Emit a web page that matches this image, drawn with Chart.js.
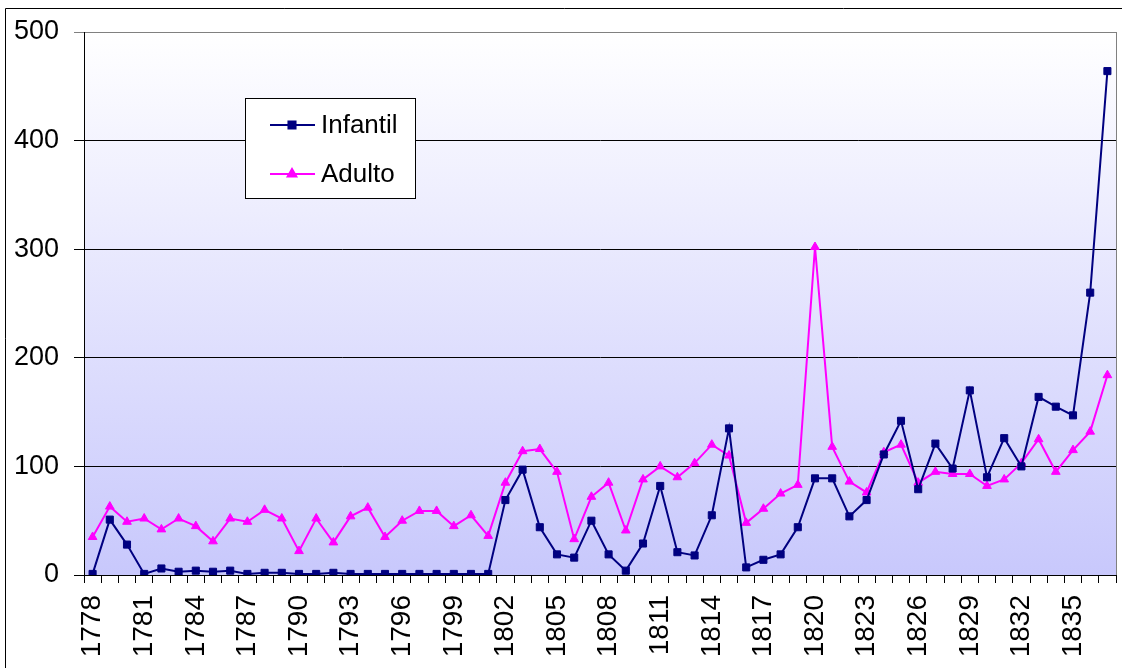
<!DOCTYPE html>
<html>
<head>
<meta charset="utf-8">
<script src="https://cdn.jsdelivr.net/npm/chart.js@4.4.1/dist/chart.umd.min.js"></script>
<style>
  html, body { margin: 0; padding: 0; background: #fff; }
  #wrap { width: 1122px; height: 668px; position: relative; }
</style>
</head>
<body>
<div id="wrap"><canvas id="chart" width="1122" height="668"></canvas></div>
<script>
// Years 1778..1837, one category per year
const years = [];
for (let y = 1778; y <= 1837; y++) years.push(String(y));

const infantil = [
  1, 51, 28, 1, 6, 3, 4, 3, 4, 1,
  2, 2, 1, 1, 2, 1, 1, 1, 1, 1,
  1, 1, 1, 1, 69, 97, 44, 19, 16, 50,
  19, 4, 29, 82, 21, 18, 55, 135, 7, 14,
  19, 44, 89, 89, 54, 69, 111, 142, 79, 121,
  98, 170, 90, 126, 100, 164, 155, 147, 260, 464
];

const adulto = [
  35, 63, 49, 52, 42, 52, 45, 31, 52, 49,
  60, 52, 22, 52, 30, 54, 62, 35, 50, 59,
  59, 45, 55, 36, 85, 114, 116, 95, 33, 72,
  85, 41, 88, 100, 90, 103, 120, 110, 48, 61,
  75, 83, 302, 118, 86, 76, 113, 120, 85, 95,
  93, 93, 82, 88, 103, 125, 95, 115, 132, 184
];

const yTicks = [0, 100, 200, 300, 400, 500];

// Lavender gradient behind the plot area, plus the outer frame
const backdrop = {
  id: 'backdrop',
  beforeDraw(chart) {
    const { ctx, chartArea: a } = chart;
    ctx.save();
    const g = ctx.createLinearGradient(0, a.top, 0, a.bottom);
    g.addColorStop(0, '#ffffff');
    g.addColorStop(1, '#c8c8fc');
    ctx.fillStyle = g;
    ctx.fillRect(a.left, a.top, a.right - a.left, a.bottom - a.top);
    ctx.strokeStyle = '#808080';
    ctx.lineWidth = 1;
    ctx.strokeRect(Math.round(a.left) + 0.5, Math.round(a.top) + 0.5,
      Math.round(a.right - a.left), Math.round(a.bottom - a.top));
    // outer chart frame (runs off the right and bottom edges)
    ctx.strokeStyle = '#000';
    ctx.beginPath();
    ctx.moveTo(5.5, 700);
    ctx.lineTo(5.5, 8.5);
    ctx.lineTo(1130, 8.5);
    ctx.stroke();
    ctx.restore();
  }
};

// Boxed legend placed inside the plot, as in the original
const boxLegend = {
  id: 'boxLegend',
  afterDraw(chart) {
    const ctx = chart.ctx;
    const x = 245.5, y = 98.5, w = 170, h = 100;
    ctx.save();
    ctx.fillStyle = '#fff';
    ctx.fillRect(x, y, w, h);
    ctx.strokeStyle = '#000';
    ctx.lineWidth = 1;
    ctx.strokeRect(x, y, w, h);
    const rows = [125, 174];
    chart.data.datasets.forEach((ds, i) => {
      const ry = rows[i];
      ctx.strokeStyle = ds.borderColor;
      ctx.lineWidth = 2;
      ctx.beginPath();
      ctx.moveTo(270, ry);
      ctx.lineTo(315, ry);
      ctx.stroke();
      Chart.helpers.drawPoint(ctx, {
        pointStyle: ds.pointStyle, radius: ds.pointRadius, borderWidth: 1
      }, 292, ry);
      ctx.fillStyle = ds.borderColor;
      ctx.fill();
      ctx.fillStyle = '#000';
      ctx.font = '26px "Liberation Sans", Arial, sans-serif';
      ctx.textBaseline = 'middle';
      ctx.fillText(ds.label, 321, ry + 1);
    });
    ctx.restore();
  }
};

new Chart(document.getElementById('chart'), {
  type: 'line',
  data: {
    labels: years,
    datasets: [
      {
        label: 'Infantil',
        data: infantil,
        borderColor: '#000080',
        backgroundColor: '#000080',
        borderWidth: 2,
        pointStyle: 'rect',
        pointRadius: 5,
        pointBorderWidth: 1
      },
      {
        label: 'Adulto',
        data: adulto,
        borderColor: '#ff00ff',
        backgroundColor: '#ff00ff',
        borderWidth: 2,
        pointStyle: 'triangle',
        pointRadius: 5,
        pointBorderWidth: 1
      }
    ]
  },
  options: {
    responsive: false,
    animation: false,
    layout: { padding: { left: 0, top: 32, right: 5, bottom: 0 } },
    plugins: {
      legend: { display: false },
      tooltip: { enabled: false }
    },
    scales: {
      x: {
        offset: true,
        afterFit(scale) {
          scale.height = 93;
          scale.paddingLeft = 0;
          scale.paddingRight = 0;
        },
        grid: {
          offset: true,
          drawOnChartArea: false,
          tickLength: 8,
          color: '#000'
        },
        border: { color: '#000', width: 1 },
        ticks: {
          autoSkip: false,
          minRotation: 90,
          maxRotation: 90,
          padding: 12,
          color: '#000',
          font: { family: '"Liberation Sans", Arial, sans-serif', size: 28 },
          callback: (v, i) => (i % 3 === 0 ? years[i] : '')
        }
      },
      y: {
        min: 0,
        max: 500,
        afterFit(scale) {
          scale.width = 84;
          scale.paddingTop = 0;
          scale.paddingBottom = 0;
        },
        afterBuildTicks(scale) { scale.ticks = yTicks.map(v => ({ value: v })); },
        grid: {
          tickLength: 10,
          color: ctx => (ctx.tick && ctx.tick.value === 500 ? '#808080' : '#000')
        },
        border: { color: '#000', width: 1 },
        ticks: {
          padding: 15,
          color: '#000',
          font: { family: '"Liberation Sans", Arial, sans-serif', size: 27 }
        }
      }
    }
  },
  plugins: [backdrop, boxLegend]
});
</script>
</body>
</html>
